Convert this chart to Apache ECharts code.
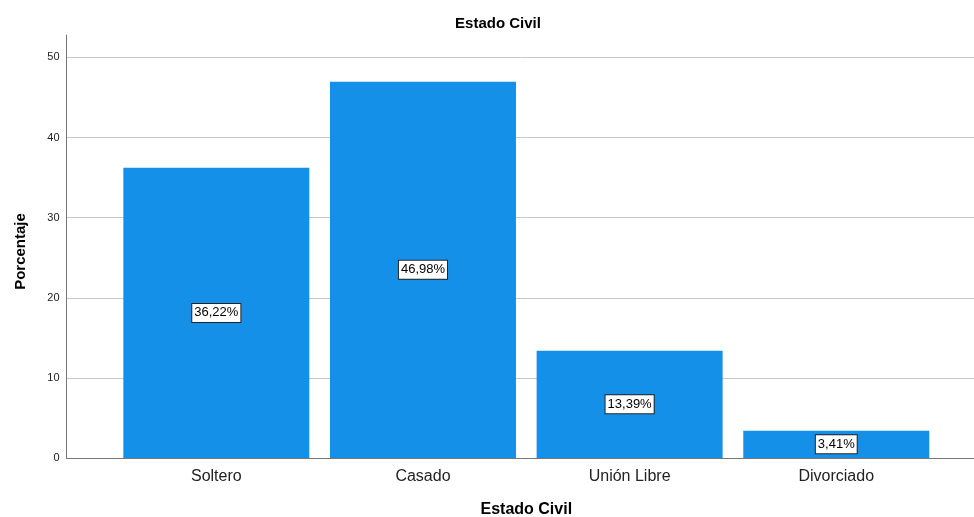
<!DOCTYPE html>
<html>
<head>
<meta charset="utf-8">
<script src="https://cdn.jsdelivr.net/npm/echarts@6/dist/echarts.min.js"></script>
<style>html,body{margin:0;padding:0;background:#fff}#c{width:974px;height:517px}</style>
</head>
<body>
<div id="c"></div>
<script>
const categories = ['Soltero', 'Casado', 'Unión Libre', 'Divorciado'];
const values = [36.22, 46.98, 13.39, 3.41];
const yTicks = [0, 10, 20, 30, 40, 50];

const FONT = '"Liberation Sans", Arial, sans-serif';
const Y_MAX = 52.8;
const chart = echarts.init(document.getElementById('c'));
chart.setOption({
  animation: false,
  title: {
    text: 'Estado Civil', left: 493, top: 11, textAlign: 'center',
    textStyle: { fontFamily: FONT, fontSize: 15, fontWeight: 'bold', color: '#000' }
  },
  grid: [
    { left: 66.5, right: 0, top: 35, bottom: 59, outerBoundsMode: 'none', containLabel: false },
    { left: 113, right: 34.4, top: 35, bottom: 59, outerBoundsMode: 'none', containLabel: false }
  ],
  xAxis: [
    { gridIndex: 0, type: 'value', min: 0, max: 1, axisLabel: { show: false }, axisTick: { show: false },
      splitLine: { show: false }, axisLine: { show: true, lineStyle: { color: '#777', width: 1 } } },
    { gridIndex: 1, type: 'category', data: categories, axisTick: { show: false },
      axisLine: { show: false },
      axisLabel: { fontFamily: FONT, fontSize: 16, color: '#222', margin: 11 },
      name: 'Estado Civil', nameLocation: 'middle', nameGap: 44,
      nameTextStyle: { fontFamily: FONT, fontSize: 16, fontWeight: 'bold', color: '#000' } }
  ],
  yAxis: [
    { gridIndex: 0, type: 'value', min: 0, max: Y_MAX, interval: 10,
      axisLine: { show: true, lineStyle: { color: '#777', width: 1 } }, axisTick: { show: false },
      axisLabel: { fontFamily: FONT, fontSize: 11, color: '#222', margin: 7, padding: [2, 0, 0, 0],
        formatter: v => yTicks.includes(v) ? String(v) : '' },
      splitLine: { show: true, lineStyle: { color: ['#c8c8c8','#c8c8c8','#c8c8c8','#c8c8c8','#c8c8c8','#c8c8c8','rgba(0,0,0,0)'], width: 1 } },
      name: 'Porcentaje', nameLocation: 'middle', nameGap: 38, nameRotate: 90,
      nameTextStyle: { fontFamily: FONT, fontSize: 15, fontWeight: 'bold', color: '#000', padding: [0, 10, 0, 0] } },
    { gridIndex: 1, type: 'value', min: 0, max: Y_MAX, show: false, splitLine: { show: false } }
  ],
  series: [{
    type: 'bar', xAxisIndex: 1, yAxisIndex: 1, data: values, barWidth: 186,
    itemStyle: { color: '#1590E8' },
    label: {
      show: true, position: 'inside',
      formatter: p => p.value.toFixed(2).replace('.', ',') + '%',
      fontFamily: FONT, fontSize: 13, color: '#000', lineHeight: 14,
      backgroundColor: '#fff', borderColor: '#222', borderWidth: 1, padding: [3, 2, 1, 2]
    }
  }]
});
</script>
</body>
</html>
